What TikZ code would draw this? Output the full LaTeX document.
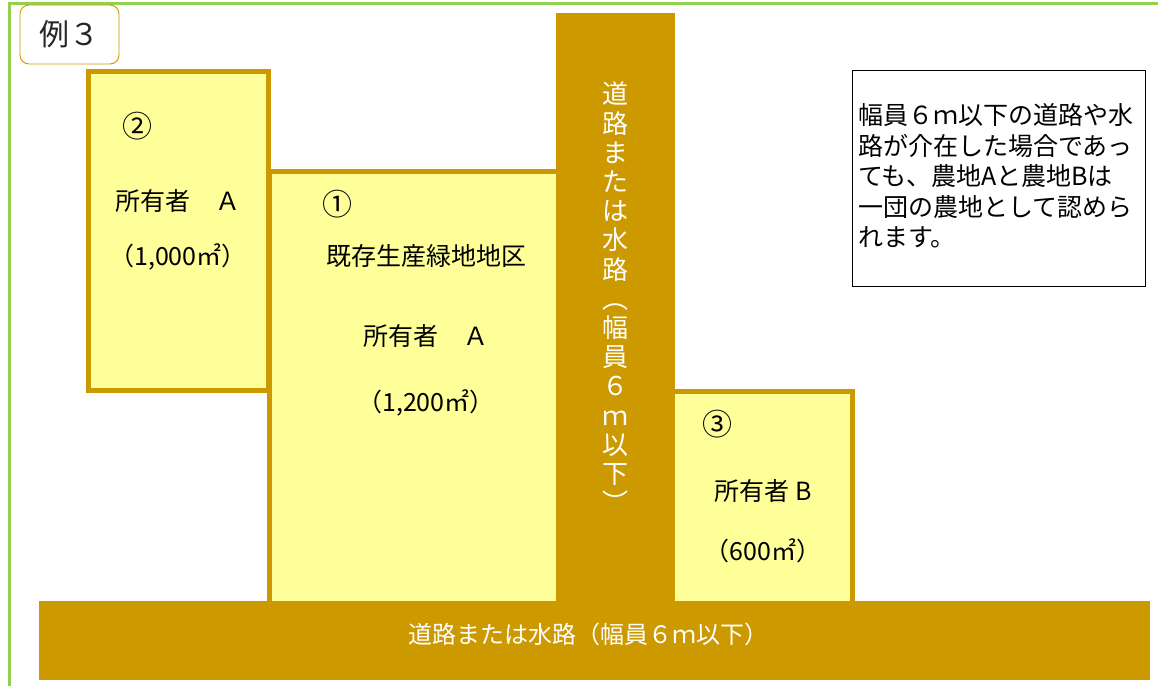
\documentclass[tikz,border=0pt]{standalone}
\usepackage{fontspec}
\setmainfont{Noto Sans CJK JP}
\definecolor{gold}{HTML}{CC9900}
\definecolor{lightyel}{HTML}{FFFF99}
\definecolor{frgreen}{HTML}{92D050}
\tikzset{
  lot/.style={draw=gold, line width=4.5pt, fill=lightyel},
  road/.style={fill=gold, draw=none},
  lbl/.style={inner sep=0pt, text height=0.88em, text depth=0.12em, font=\fontsize{25}{25}\selectfont},
  numlbl/.style={lbl, font=\fontsize{30}{30}\selectfont},
  vchar/.style={lbl, text=white, font=\fontsize{26}{26}\selectfont},
  roadtext/.style={lbl, text=white, font=\fontsize{24}{24}\selectfont},
  notetext/.style={lbl, anchor=west, font=\fontsize{25}{25}\selectfont},
  examplebox/.style={draw=gold, line width=0.9pt, rounded corners=9pt, fill=white,
    minimum width=99pt, minimum height=59pt, inner sep=0pt, text=black!85,
    font=\fontsize{30}{30}\selectfont}
}
\begin{document}
\begin{tikzpicture}[x=1pt,y=-1pt]
\useasboundingbox (0,0) rectangle (1158,686);
\fill[white] (0,0) rectangle (1158,686);
% green frame
\draw[frgreen, line width=3pt] (9.5,686) -- (9.5,3.5) -- (1158,3.5);
% example label
\node[examplebox] (ex) at (69.5,34.5) {例３};
% lots
\draw[lot] (269.5,171.5) rectangle (560,612);
\draw[lot] (88.5,71.5) rectangle (268.5,390.5);
\draw[lot] (672,391.5) rectangle (852.5,612);
% roads
\fill[road] (556,13) rectangle (675,602);
\fill[road] (39,601) rectangle (1150,680);
% lot 1 labels
\node[numlbl] (n1) at (337,212) {①};
\node[lbl] (l1a) at (426,262) {既存生産緑地地区};
\node[lbl] (l1b) at (426,342) {所有者　Ａ};
\node[lbl] (l1c) at (426,408) {（1,200㎡）};
% lot 2 labels
\node[numlbl] (n2) at (137,134) {②};
\node[lbl] (l2a) at (178,207) {所有者　Ａ};
\node[lbl] (l2b) at (178,262) {（1,000㎡）};
% lot 3 labels
\node[numlbl] (n3) at (717,432) {③};
\node[lbl] (l3a) at (763,497) {所有者 B};
\node[lbl] (l3b) at (763,557) {（600㎡）};
% vertical road text
\foreach \c [count=\i] in {道,路,ま,た,は,水,路,︵,幅,員,６,ｍ,以,下,︶}
  \node[vchar] (v\i) at (615,{100+29.2*(\i-1)}) {\c};
% bottom road text
\node[roadtext] (rb) at (588,640) {道路または水路（幅員６ｍ以下）};
% note box
\draw[black, line width=1.3pt] (852.5,70.5) rectangle (1145.5,286.5);
\node[notetext] (t1) at (858,121) {幅員６ｍ以下の道路や水};
\node[notetext] (t2) at (858,151.5) {路が介在した場合であっ};
\node[notetext] (t3) at (858,182) {ても、農地Aと農地Bは};
\node[notetext] (t4) at (858,212.5) {一団の農地として認めら};
\node[notetext] (t5) at (858,243) {れます。};
\end{tikzpicture}
\end{document}
